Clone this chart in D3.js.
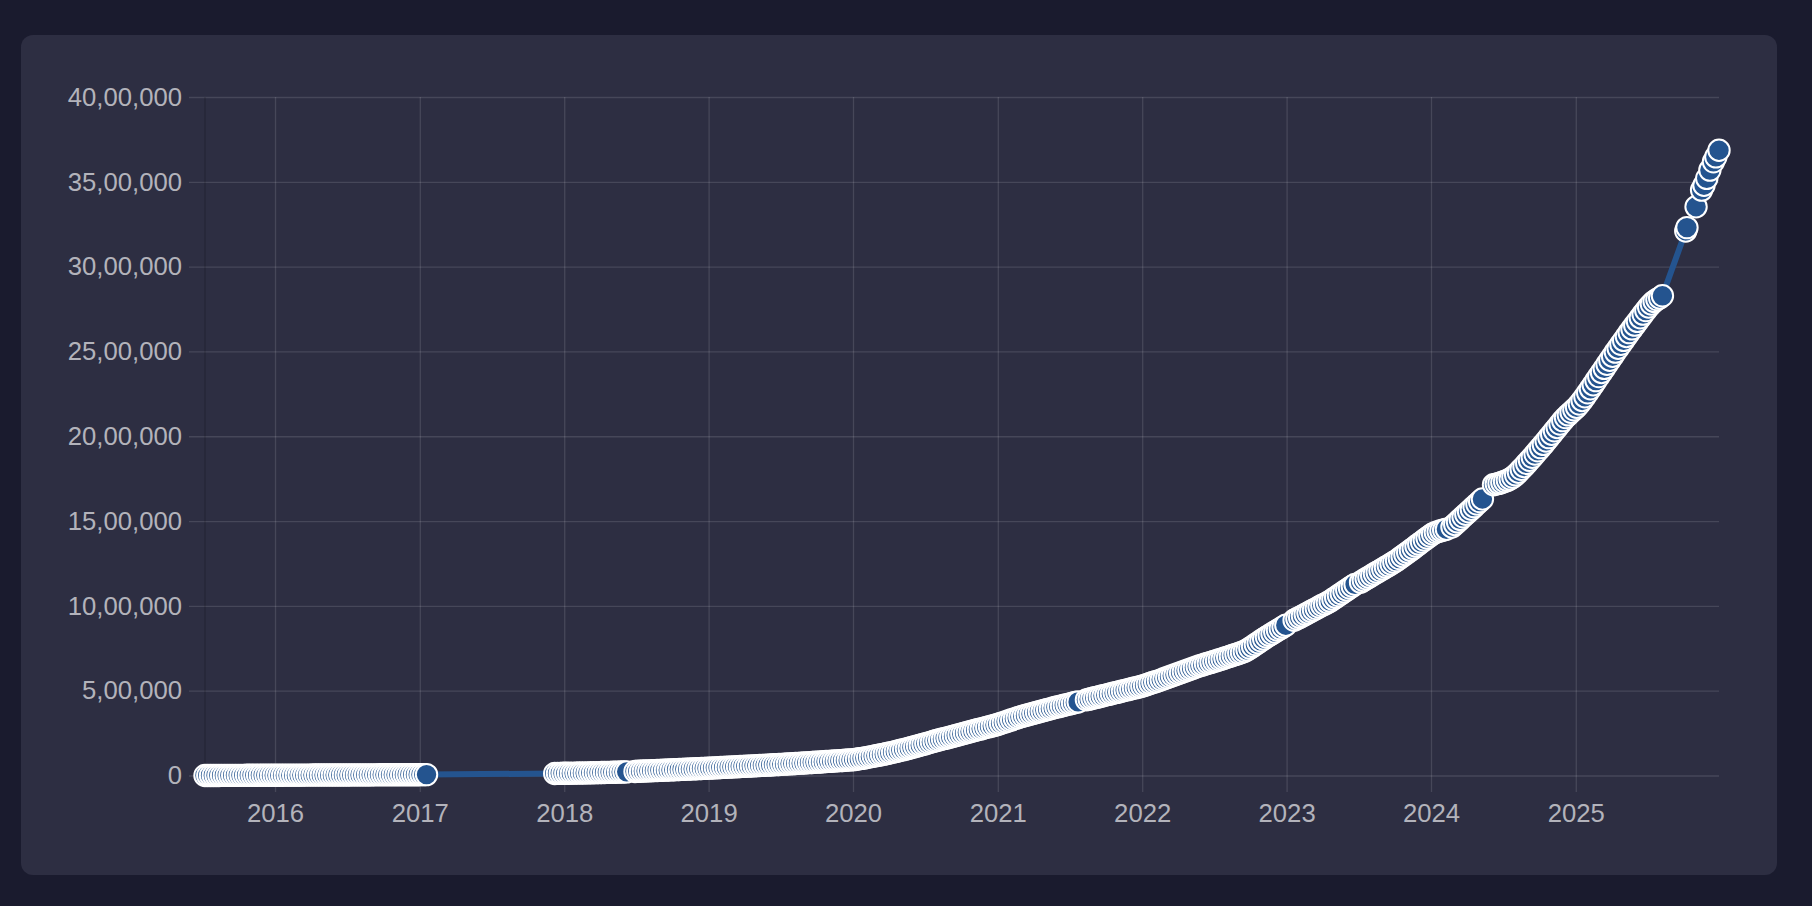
<!DOCTYPE html>
<html><head><meta charset="utf-8">
<script src="https://cdn.jsdelivr.net/npm/d3@7"></script>
<style>
html,body{margin:0;padding:0;background:#1a1b2e;}
svg{display:block;}
</style></head><body>
<svg id="chart" width="1812" height="906"></svg>
<script>
// ---- DATA (values in thousands, weekly runs) ----
const runStarts = ["2015-07-08","2017-12-08","2018-06-29","2021-08-13","2023-01-20","2023-07-07","2024-02-23","2024-06-07"];
const runA = [0.1,0.2,0.2,0.3,0.3,0.4,0.5,0.5,0.6,0.7,0.7,0.8,0.9,0.9,1.0,1.1,1.1,1.2,1.3,1.3,1.4,1.5,1.5,1.6,1.6,1.7,1.8,1.8,1.9,2.0,2.0,2.1,2.1,2.2,2.3,2.3,2.4,2.4,2.5,2.6,2.6,2.7,2.7,2.8,2.9,2.9,3.0,3.0,3.1,3.2,3.2,3.3,3.3,3.4,3.4,3.5,3.6,3.6,3.7,3.7,3.8,3.9,3.9,4.0,4.0,4.1,4.2,4.2,4.3,4.3,4.4,4.5,4.5,4.6,4.6,4.7,4.8,4.8,4.9,5.0,5.2];
const runB = [12.0,12.3,12.6,12.9,13.2,13.5,13.8,14.1,14.4,14.7,15.0,15.3,15.6,15.9,16.3,16.7,17.0,17.4,17.8,18.2,18.6,19.0,19.5,19.9,20.4,20.9,21.4];
const runC = [24.0,24.7,25.4,26.1,26.8,27.5,28.2,28.9,29.6,30.3,31.0,31.7,32.4,33.1,33.8,34.5,35.2,35.9,36.7,37.4,38.1,38.8,39.6,40.3,41.1,41.8,42.6,
  43.4,44.3,45.1,46.0,46.8,47.7,48.5,49.4,50.2,51.1,51.9,52.8,53.6,54.5,55.3,56.2,57.0,57.9,58.7,59.6,60.4,61.3,62.1,63.0,
  63.9,64.9,65.8,66.8,67.7,68.7,69.7,70.7,71.7,72.7,73.7,74.7,75.7,76.8,77.8,78.9,79.9,81.0,82.1,83.2,84.3,85.4,86.5,87.6,88.7,89.9,91.0,92.2,93.4,
  96,98.5,101,104,107,110,113,116,119,122.5,126,129.5,133,136.5,
  140.5,144.5,148.5,152.5,157,161,165.5,170,174.5,179,183.5,188,192.5,197,201.5,206,210.5,
  215,219,223,227.5,232,236,240.5,245,249,253.5,258,262,266.5,271,275,279.5,284,288,292.5,297,301,
  306.5,312,317.5,323,328.5,334,339.5,345,350,
  354,358.5,363,367,371.5,376,380,384.5,389,393,397.5,402,406,410,414,418,422,426,430,434];
const runD = [446,450,454,458,462,466,470,474,478,482,486,490,494,498,502,506,510,514,518,522,526,
  531,537,543,548,553,558,564,570,576,582,588,594,600,606,612,618,624,630,636,642,
  647,652,657,662,667,672,677,682,687,693,698,703,709,714,720,725,731,
  740,750,761,772,783,794,805,816,826,836,846,856,866,876,886];
const runE = [915,924,932,941,950,958,967,976,984,993,1002,1010,1019,1028,1039,1050,1061,1072,1083,1094,1105,1116,1127];
const runF = [1140,1150,1160,1169,1179,1189,1198,1208,1218,1228,1237,1247,1257,1267,1279,1291,1303,1315,1327,1339,1352,1364,1376,1388,1400,1412,1424,1432,1438,1443,1447,1452];
const runG = [1465,1480,1495,1510,1525,1540,1555,1570,1585,1600,1615,1630];
const runH = [1714,1718,1722,1727,1733,1740,1748,1758,1772,1788,1805,1822,1840,1858,1876,1895,1914,1933,1952,1972,
  1992,2012,2032,2052,2072,2092,2110,2126,2141,2156,2171,2190,2211,2233,2256,2280,2304,2328,2352,2376,
  2400,2424,2448,2472,2496,2519,2542,2565,2588,2611,2633,2655,2677,2699,2720,2741,2762,2780,2795,2806,2815,2828];
const weeklyRuns = [runA, runB, runC, runD, runE, runF, runG, runH];
const lateDates = ["2025-10-06","2025-10-09","2025-11-01","2025-11-15","2025-11-21","2025-11-28","2025-12-06","2025-12-15","2025-12-21","2025-12-29"];
const lateValues = [3210,3230,3353,3451,3480,3520,3569,3618,3647,3686];
const yTicks = [0,500000,1000000,1500000,2000000,2500000,3000000,3500000,4000000];

// ---- BUILD POINTS ----
const parse = d3.utcParse("%Y-%m-%d");
const points = [];
weeklyRuns.forEach((vals, r) => {
  const start = parse(runStarts[r]);
  vals.forEach((v, i) => points.push({date: d3.utcDay.offset(start, 7 * i), value: v * 1000}));
});
lateDates.forEach((d, i) => points.push({date: parse(d), value: lateValues[i] * 1000}));

// ---- LAYOUT ----
const svg = d3.select("#chart");
const L = 205, R = 1719, T = 97, B = 775.5;
const FONT = "'Liberation Sans', Arial, Helvetica, sans-serif";
const textColor = "#b3b3bb";
const gridColor = "rgba(255,255,255,0.12)";

svg.append("rect").attr("width", 1812).attr("height", 906).attr("fill", "#1a1b2e");
svg.append("rect").attr("x", 21).attr("y", 35).attr("width", 1756).attr("height", 840)
  .attr("rx", 12).attr("fill", "#2d2e42");

const x = d3.scaleUtc().domain(d3.extent(points, d => d.date)).range([L, R]);
const y = d3.scaleLinear().domain([0, 4000000]).range([B, T]);

function indian(n) {
  const s = String(Math.round(n));
  if (s.length <= 3) return s;
  const last3 = s.slice(-3);
  let rest = s.slice(0, -3);
  const parts = [];
  while (rest.length > 2) { parts.unshift(rest.slice(-2)); rest = rest.slice(0, -2); }
  if (rest.length) parts.unshift(rest);
  return parts.join(",") + "," + last3;
}

// horizontal grid + y labels
const gy = svg.append("g").attr("transform", `translate(189,0)`)
  .call(d3.axisLeft(y).tickValues(yTicks).tickSize(-(R - 189)).tickPadding(7).tickFormat(indian));
gy.select(".domain").remove();
gy.selectAll(".tick line").attr("stroke", gridColor).attr("stroke-width", 1.3);
gy.selectAll(".tick text").attr("fill", textColor).attr("font-family", FONT).attr("font-size", 25.7);

// vertical grid + x labels
const gx = svg.append("g").attr("transform", `translate(0,792)`)
  .call(d3.axisBottom(x).ticks(d3.utcYear.every(1)).tickSize(-(792 - T)).tickPadding(12).tickFormat(d3.utcFormat("%Y")));
gx.select(".domain").remove();
gx.selectAll(".tick line").attr("stroke", gridColor).attr("stroke-width", 1.3);
gx.selectAll(".tick text").attr("fill", textColor).attr("font-family", FONT).attr("font-size", 25.7);

// left axis border
svg.append("line").attr("x1", L).attr("x2", L).attr("y1", T).attr("y2", B)
  .attr("stroke", "rgba(0,0,0,0.18)").attr("stroke-width", 1.3);

// line
const blue = "#24548f";
svg.append("path").datum(points)
  .attr("d", d3.line().x(d => x(d.date)).y(d => y(d.value)))
  .attr("fill", "none").attr("stroke", blue).attr("stroke-width", 6)
  .attr("stroke-linejoin", "round");

// points
svg.append("g").selectAll("circle").data(points).join("circle")
  .attr("cx", d => x(d.date)).attr("cy", d => y(d.value)).attr("r", 10.7)
  .attr("fill", blue).attr("stroke", "#ffffff").attr("stroke-width", 2);
</script></body></html>
